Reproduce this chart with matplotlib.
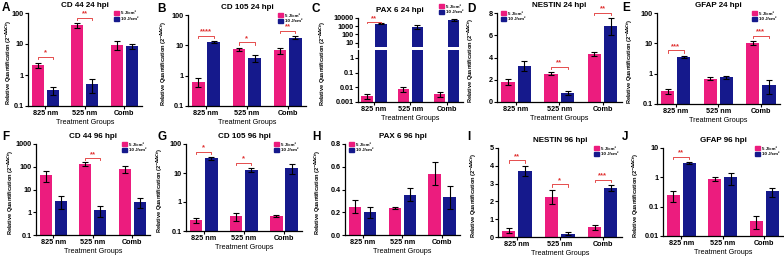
import numpy as np
import matplotlib
matplotlib.use("Agg")
import matplotlib.pyplot as plt
from matplotlib.patches import Patch

plt.rcParams['font.family'] = ['Liberation Sans', 'DejaVu Sans']
plt.rcParams['font.weight'] = 'bold'

groups = ["825 nm", "525 nm", "Comb"]
series = ["5 J/cm²", "10 J/cm²"]
PINK = "#EC1C7E"
NAVY = "#15198C"

titles = ["CD 44 24 hpi", "CD 105 24 hpi", "PAX 6 24 hpi", "NESTIN 24 hpi", "GFAP 24 hpi",
          "CD 44 96 hpi", "CD 105 96 hpi", "PAX 6 96 hpi", "NESTIN 96 hpi", "GFAP 96 hpi"]
letters = ["A", "B", "C", "D", "E", "F", "G", "H", "I", "J"]

# values: pink (5 J/cm2), navy (10 J/cm2), and their errors
cd44_24_p = [2.1, 40, 9.5];       cd44_24_pe = [0.4, 7, 3]
cd44_24_b = [0.32, 0.52, 8.5];    cd44_24_be = [0.1, 0.25, 1.8]
cd105_24_p = [0.62, 7.5, 6.8];    cd105_24_pe = [0.2, 0.8, 1.5]
cd105_24_b = [13, 3.8, 18];       cd105_24_be = [1, 1.0, 2]
pax6_24_p = [0.0025, 0.008, 0.0035]; pax6_24_pe = [0.0008, 0.003, 0.0013]
pax6_24_b = [2000, 900, 5500];    pax6_24_be = [300, 400, 1500]
nes_24_p = [1.8, 2.55, 4.3];      nes_24_pe = [0.25, 0.12, 0.2]
nes_24_b = [3.2, 0.8, 6.8];       nes_24_be = [0.45, 0.2, 0.75]
gfap_24_p = [0.27, 0.68, 10];     gfap_24_pe = [0.05, 0.08, 1.5]
gfap_24_b = [3.6, 0.75, 0.42];    gfap_24_be = [0.3, 0.08, 0.2]
cd44_96_p = [42, 130, 80];        cd44_96_pe = [20, 25, 25]
cd44_96_b = [3.2, 1.25, 2.9];     cd44_96_be = [1.8, 0.6, 1.3]
cd105_96_p = [0.24, 0.32, 0.33];  cd105_96_pe = [0.05, 0.1, 0.03]
cd105_96_b = [32, 12.5, 15];      cd105_96_be = [4, 2, 6]
pax6_96_p = [0.25, 0.235, 0.54];  pax6_96_pe = [0.06, 0.01, 0.1]
pax6_96_b = [0.2, 0.355, 0.33];   pax6_96_be = [0.05, 0.06, 0.1]
nes_96_p = [0.35, 2.25, 0.55];    nes_96_pe = [0.15, 0.4, 0.15]
nes_96_b = [3.7, 0.18, 2.75];     nes_96_be = [0.3, 0.08, 0.18]
gfap_96_p = [0.25, 0.88, 0.033];  gfap_96_pe = [0.1, 0.15, 0.015]
gfap_96_b = [3.1, 1.0, 0.33];     gfap_96_be = [0.3, 0.45, 0.12]

sig = [["*", "**", ""], ["****", "*", "**"], ["**", "", ""], ["", "**", "**"], ["***", "", "***"],
       ["", "**", ""], ["*", "*", ""], ["", "", ""], ["**", "*", "***"], ["**", "", ""]]

data = [(cd44_24_p, cd44_24_pe, cd44_24_b, cd44_24_be),
        (cd105_24_p, cd105_24_pe, cd105_24_b, cd105_24_be),
        (pax6_24_p, pax6_24_pe, pax6_24_b, pax6_24_be),
        (nes_24_p, nes_24_pe, nes_24_b, nes_24_be),
        (gfap_24_p, gfap_24_pe, gfap_24_b, gfap_24_be),
        (cd44_96_p, cd44_96_pe, cd44_96_b, cd44_96_be),
        (cd105_96_p, cd105_96_pe, cd105_96_b, cd105_96_be),
        (pax6_96_p, pax6_96_pe, pax6_96_b, pax6_96_be),
        (nes_96_p, nes_96_pe, nes_96_b, nes_96_be),
        (gfap_96_p, gfap_96_pe, gfap_96_b, gfap_96_be)]

# y axis settings: (scale, ylim, ticks, ticklabels)
yset = [("log", (0.1, 100), [0.1, 1, 10, 100], ["0.1", "1", "10", "100"]),
        ("log", (0.1, 100), [0.1, 1, 10, 100], ["0.1", "1", "10", "100"]),
        None,
        ("linear", (0, 8), [0, 2, 4, 6, 8], ["0", "2", "4", "6", "8"]),
        ("log", (0.1, 100), [0.1, 1, 10, 100], ["0.1", "1", "10", "100"]),
        ("log", (0.1, 1000), [0.1, 1, 10, 100, 1000], ["0.1", "1", "10", "100", "1000"]),
        ("log", (0.1, 100), [0.1, 1, 10, 100], ["0.1", "1", "10", "100"]),
        ("linear", (0, 0.8), [0, 0.2, 0.4, 0.6, 0.8], ["0.0", "0.2", "0.4", "0.6", "0.8"]),
        ("linear", (0, 5), [0, 1, 2, 3, 4, 5], ["0", "1", "2", "3", "4", "5"]),
        ("log", (0.01, 10), [0.01, 0.1, 1, 10], ["0.01", "0.1", "1", "10"])]

# axes boxes in pixels: left, top, right, bottom
boxes = [(28, 13, 142, 106), (188, 15, 306, 106), (358, 18, 463, 102), (497, 13, 622, 102),
         (657, 13, 780, 104), (36, 144, 150, 235), (186, 144, 302, 231), (345, 144, 460, 235),
         (498, 148, 622, 237), (663, 148, 783, 236)]
legend_loc = ["upper right", "upper right", None, "upper left", "upper right",
              "upper right", "upper right", "upper left", "upper right", "upper right"]
ylab_x = [9, 164, 323, 471, 630, 11, 160, 318, 474, 636]
letter_xy = [(2, 2), (157, 3), (312, 3), (467, 3), (622, 2),
             (2, 131), (157, 131), (312, 131), (467, 131), (622, 131)]

W, H = 784, 256
fig = plt.figure(figsize=(W / 100, H / 100), dpi=100)

def add_ax(l, t, r, b):
    return fig.add_axes([l / W, 1 - b / H, (r - l) / W, (b - t) / H])

x = np.arange(len(groups))
bw, off = 0.31, 0.19
FS = 5.2
ekw = dict(ecolor="black", elinewidth=0.8, capsize=2.2, capthick=0.8)
YLAB = "Relative Quantification (2$^{-ΔΔCt}$)"

def style(ax):
    ax.spines['top'].set_visible(False)
    ax.spines['right'].set_visible(False)
    for s in ['left', 'bottom']:
        ax.spines[s].set_linewidth(0.9)
    ax.tick_params(axis='both', labelsize=FS, width=0.8, length=2, pad=1)
    ax.minorticks_off()
    ax.set_xlim(-0.44, 2.45)

def draw_bars(ax, p, pe, b, be):
    ax.bar(x - off, p, bw, color=PINK, yerr=pe, error_kw=ekw, zorder=2)
    ax.bar(x + off, b, bw, color=NAVY, yerr=be, error_kw=ekw, zorder=2)

def bracket(ax, i, y, star, log):
    x0, x1 = i - off, i + off
    dy = y * 0.85 if log else y - (ax.get_ylim()[1] * 0.025)
    ax.plot([x0, x0, x1, x1], [dy, y, y, dy], color="#E0302F", lw=0.6, zorder=3, clip_on=False)
    ty = y * 1.05 if log else y + ax.get_ylim()[1] * 0.005
    ax.text(i, ty, star, color="#E0302F", ha="center", va="bottom", fontsize=5.5, zorder=3)

def add_legend(ax, loc, **kw):
    handles = [Patch(color=PINK), Patch(color=NAVY)]
    ax.legend(handles, series, loc=loc, fontsize=3.2, frameon=False, handlelength=1.2,
              handleheight=1.0, borderpad=0.3, labelspacing=0.25, handletextpad=0.4, **kw)

for k in range(10):
    l, t, r, b = boxes[k]
    p, pe, bb, be = data[k]
    fig.text(letter_xy[k][0] / W, 1 - letter_xy[k][1] / H, letters[k],
             fontsize=8.5, fontweight="bold", va="top", ha="left")
    fig.text(ylab_x[k] / W, 1 - ((t + b) / 2 + 3) / H, YLAB,
             rotation=90, ha="center", va="center", fontsize=4.1, fontweight="bold")
    if k == 2:
        # broken y-axis
        up = add_ax(l, t, r, t + 29)
        lo = add_ax(l, t + 32, r, b)
        for ax in (up, lo):
            draw_bars(ax, p, pe, bb, be)
            style(ax)
            ax.set_yscale("log")
        up.set_ylim(3, 10000)
        lo.set_ylim(0.001, 3.5)
        up.set_yticks([10, 100, 1000, 10000], ["10", "100", "1000", "10000"])
        lo.set_yticks([0.001, 0.01, 0.1, 1], ["0.001", "0.01", "0.1", "1"])
        up.spines['bottom'].set_visible(False)
        up.tick_params(axis='x', bottom=False, labelbottom=False)
        up.minorticks_off(); lo.minorticks_off()
        lo.set_xticks(x, groups)
        lo.set_xlabel("Treatment Groups", fontsize=FS, labelpad=1.5)
        fig.text(400 / W, 1 - 11 / H, titles[k], fontsize=5.8, fontweight="bold",
                 ha="center", va="center")
        for i, s in enumerate(sig[k]):
            if s:
                bracket(up, i, max(p[i] + pe[i], bb[i] + be[i]) * 1.4, s, True)
        add_legend(up, "lower right", bbox_to_anchor=(1.04, 1.0))
        continue
    ax = add_ax(l, t, r, b)
    scale, ylim, ticks, tlabels = yset[k]
    log = scale == "log"
    draw_bars(ax, p, pe, bb, be)
    style(ax)
    if log:
        ax.set_yscale("log")
    ax.set_ylim(*ylim)
    ax.set_yticks(ticks, tlabels)
    ax.minorticks_off()
    ax.set_xticks(x, groups)
    ax.set_xlabel("Treatment Groups", fontsize=FS, labelpad=1.5)
    ax.set_title(titles[k], fontsize=5.8, fontweight="bold", pad=4)
    for i, s in enumerate(sig[k]):
        if s:
            top = max(p[i] + pe[i], bb[i] + be[i])
            y = top * 1.5 if log else top + (ylim[1] - ylim[0]) * 0.06
            bracket(ax, i, y, s, log)
    add_legend(ax, legend_loc[k], bbox_to_anchor=(1.0 if legend_loc[k] == "upper right" else 0.0, 1.06))

fig.savefig("out.png", dpi=100)
